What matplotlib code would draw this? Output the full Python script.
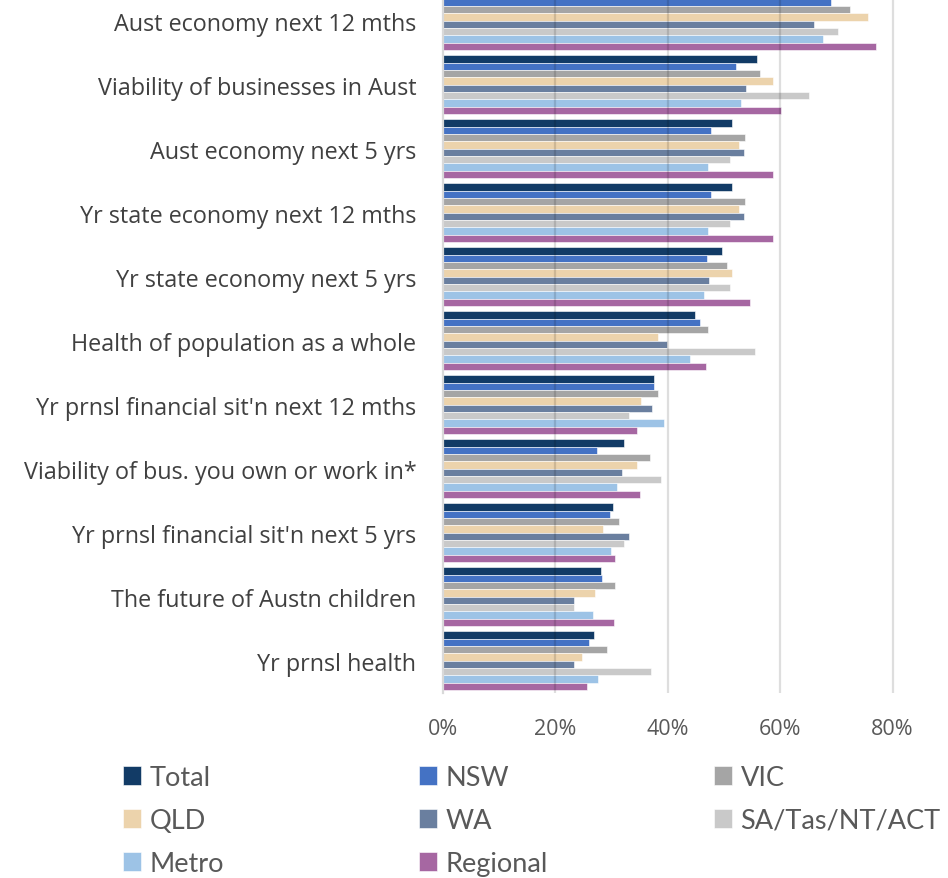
import matplotlib
matplotlib.use("Agg")
import matplotlib.pyplot as plt
import numpy as np

categories = [
    "Aust economy next 12 mths",
    "Viability of businesses in Aust",
    "Aust economy next 5 yrs",
    "Yr state economy next 12 mths",
    "Yr state economy next 5 yrs",
    "Health of population as a whole",
    "Yr prnsl financial sit'n next 12 mths",
    "Viability of bus. you own or work in*",
    "Yr prnsl financial sit'n next 5 yrs",
    "The future of Austn children",
    "Yr prnsl health",
]

series_names = ["Total", "NSW", "VIC", "QLD", "WA", "SA/Tas/NT/ACT", "Metro", "Regional"]

total    = [70.8, 55.8, 51.5, 51.5, 49.6, 44.9, 37.6, 32.3, 30.3, 28.1, 26.9]
nsw      = [69.0, 52.2, 47.7, 47.7, 47.0, 45.7, 37.6, 27.4, 29.7, 28.3, 26.1]
vic      = [72.4, 56.4, 53.8, 53.8, 50.6, 47.1, 38.3, 36.9, 31.4, 30.7, 29.3]
qld      = [75.6, 58.8, 52.7, 52.7, 51.5, 38.3, 35.3, 34.6, 28.5, 27.1, 24.7]
wa       = [66.1, 53.9, 53.5, 53.5, 47.4, 39.9, 37.2, 31.9, 33.1, 23.3, 23.3]
sa       = [70.3, 65.1, 51.0, 51.0, 51.0, 55.5, 33.1, 38.9, 32.2, 23.3, 37.0]
metro    = [67.7, 53.1, 47.2, 47.2, 46.4, 43.9, 39.4, 31.0, 29.9, 26.8, 27.7]
regional = [77.0, 60.2, 58.7, 58.7, 54.6, 46.8, 34.5, 35.1, 30.7, 30.4, 25.6]

series_values = [total, nsw, vic, qld, wa, sa, metro, regional]
colors = ["#123b66", "#4472c4", "#a5a5a5", "#ecd3ac", "#6a7f9f", "#c9c9c9", "#9dc3e6", "#a667a2"]

x_ticks = [0, 20, 40, 60, 80]
x_tick_labels = ["0%", "20%", "40%", "60%", "80%"]

W, H = 948, 879
fig = plt.figure(figsize=(W / 100, H / 100), dpi=100)
font = "Open Sans"

ax_left = 442.7 / W
ax_w = (948.9 - 442.7) / W
ax_bottom = (H - 693.7) / H
ax_h = (693.7 + 10.3) / H
ax = fig.add_axes([ax_left, ax_bottom, ax_w, ax_h])

n = len(series_names)
bar_h = 1.0 / 8.73
y = np.arange(len(categories))
handles = []
for j, (name, vals, c) in enumerate(zip(series_names, series_values, colors)):
    offs = (j - (n - 1) / 2) * bar_h
    b = ax.barh(y + offs, np.array(vals) / 100.0, height=bar_h, color=c,
                edgecolor="white", linewidth=0.4, label=name, zorder=2)
    handles.append(b)

ax.set_xlim(0, 0.9)
ax.set_ylim(len(categories) - 0.5, -0.5)
ax.set_yticks(y)
ax.set_yticklabels(categories, fontsize=16.8, color="#404040", fontfamily=font)
ax.set_xticks([t / 100 for t in x_ticks])
ax.set_xticklabels(x_tick_labels, fontsize=15.5, color="#595959", fontfamily=font)
ax.tick_params(axis="y", length=0, pad=19)
ax.tick_params(axis="x", length=0, pad=18)
for t in x_ticks[1:]:
    ax.axvline(t / 100, color="black", alpha=0.13, linewidth=1.6, zorder=3)
for s in ["top", "right", "bottom"]:
    ax.spines[s].set_visible(False)
ax.spines["left"].set_color("#d9d9d9")
ax.spines["left"].set_linewidth(1.6)
ax.spines["left"].set_zorder(3)

# legend: three columns, placed at fixed positions
cols = [[0, 3, 6], [1, 4, 7], [2, 5]]
col_x = [123, 419, 714]
for cx, idxs in zip(col_x, cols):
    leg = fig.legend([handles[i] for i in idxs], [series_names[i] for i in idxs],
                     loc="upper left", bbox_to_anchor=(cx / W, 1 - 766 / H),
                     frameon=False, prop={"family": "Lato", "size": 19.5},
                     handlelength=0.68, handleheight=0.68, handletextpad=0.3,
                     labelspacing=0.66, borderaxespad=0, borderpad=0)
    for t in leg.get_texts():
        t.set_color("#595959")

fig.savefig("out.png", dpi=100)
